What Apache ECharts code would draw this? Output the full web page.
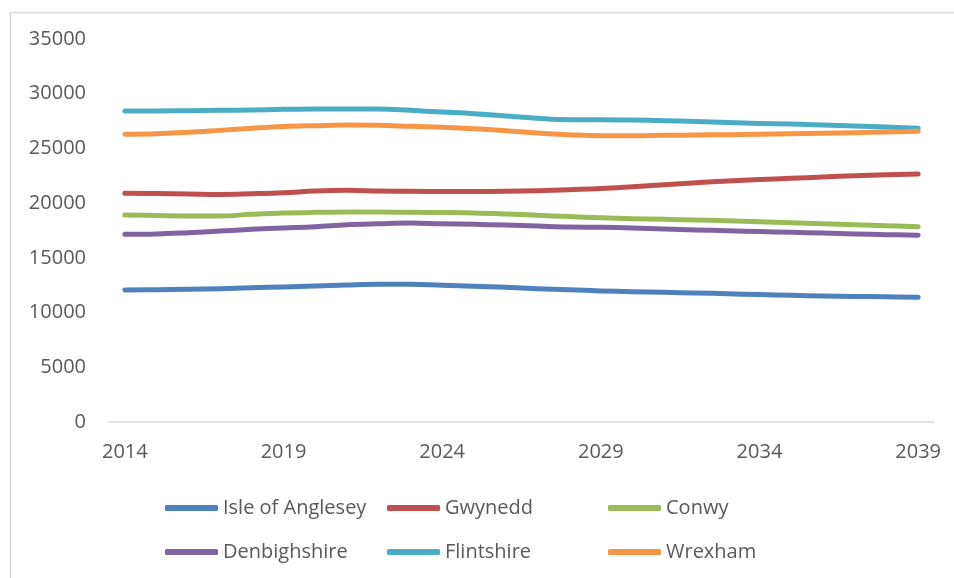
<!DOCTYPE html>
<html>
<head>
<meta charset="utf-8">
<script src="https://cdn.jsdelivr.net/npm/echarts@6/dist/echarts.min.js"></script>
<style>
  html, body { margin: 0; padding: 0; background: #fff; }
  #chart { width: 954px; height: 578px; }
</style>
</head>
<body>
<div id="chart"></div>
<script>
// years on the category axis
const years = []
for (let y = 2014; y <= 2039; y++) years.push(String(y))

const yTicks = [0, 5000, 10000, 15000, 20000, 25000, 30000, 35000]

// values
const anglesey = [12060, 12090, 12120, 12180, 12270, 12340, 12430, 12520, 12580, 12580,
  12490, 12400, 12310, 12180, 12090, 11980, 11910, 11850, 11790, 11720,
  11650, 11580, 11510, 11480, 11450, 11390]
const gwynedd = [20900, 20870, 20835, 20800, 20860, 20950, 21110, 21170, 21110, 21080,
  21060, 21060, 21080, 21140, 21230, 21330, 21500, 21690, 21870, 22020,
  22150, 22270, 22390, 22510, 22600, 22660]
const conwy = [18916, 18870, 18825, 18825, 18980, 19100, 19160, 19190, 19190, 19160,
  19140, 19100, 19010, 18890, 18770, 18670, 18580, 18520, 18460, 18400,
  18300, 18210, 18120, 18030, 17940, 17850]
const denbighshire = [17150, 17180, 17300, 17450, 17610, 17730, 17850, 18030, 18120, 18185,
  18110, 18060, 18000, 17910, 17820, 17790, 17730, 17640, 17550, 17480,
  17400, 17330, 17270, 17180, 17120, 17060]
const flintshire = [28420, 28430, 28450, 28480, 28510, 28570, 28600, 28600, 28600, 28480,
  28330, 28180, 27960, 27750, 27630, 27630, 27600, 27540, 27450, 27360,
  27280, 27230, 27140, 27050, 26960, 26840]
const wrexham = [26290, 26350, 26470, 26650, 26840, 27000, 27080, 27140, 27110, 27020,
  26930, 26800, 26620, 26410, 26260, 26170, 26170, 26200, 26230, 26260,
  26290, 26350, 26380, 26440, 26500, 26560]

const names = ['Isle of Anglesey', 'Gwynedd', 'Conwy', 'Denbighshire', 'Flintshire', 'Wrexham']
const colors = ['#4F81BD', '#C0504D', '#9BBB59', '#8064A2', '#4BACC6', '#F79646']
const dataSets = [anglesey, gwynedd, conwy, denbighshire, flintshire, wrexham]

const FONT = '"Open Sans", "Noto Sans", sans-serif'
const TXT = '#595959'

const myChart = echarts.init(document.getElementById('chart'))

// one legend per item so the columns line up like the original
const legendCols = [165, 387, 608]
const legendRows = [498, 542]
const legends = names.map((n, i) => ({
  orient: 'horizontal',
  left: legendCols[i % 3],
  top: legendRows[Math.floor(i / 3)],
  padding: 0,
  itemWidth: 53,
  itemHeight: 6,
  icon: 'roundRect',
  data: [n],
  textStyle: { fontFamily: FONT, fontSize: 20, color: TXT }
}))

const option = {
  animation: false,
  color: colors,
  graphic: [{
    type: 'rect',
    left: 8, top: 10,
    shape: { width: 1000, height: 1000 },
    style: { fill: 'none', stroke: '#d9d9d9', lineWidth: 1.5 },
    silent: true
  }],
  grid: { left: 109, right: 20, top: 39, bottom: 156, containLabel: false },
  legend: legends,
  xAxis: {
    type: 'category',
    data: years,
    boundaryGap: true,
    axisLine: { lineStyle: { color: '#d9d9d9', width: 1.5 } },
    axisTick: { show: false },
    axisLabel: {
      interval: 4,
      margin: 20,
      fontFamily: FONT, fontSize: 20, color: TXT
    }
  },
  yAxis: {
    type: 'value',
    min: yTicks[0],
    max: yTicks[yTicks.length - 1],
    interval: 5000,
    axisLine: { show: false },
    axisTick: { show: false },
    splitLine: { show: false },
    axisLabel: {
      margin: 23, fontFamily: FONT, fontSize: 20, color: TXT,
      formatter: (v) => String(v)
    }
  },
  series: names.map((n, i) => ({
    name: n,
    type: 'line',
    data: dataSets[i],
    smooth: 0.4,
    showSymbol: false,
    symbol: 'none',
    lineStyle: { width: 5, color: colors[i], cap: 'round', join: 'round' },
    itemStyle: { color: colors[i] }
  }))
}

myChart.setOption(option)
</script>
</body>
</html>
